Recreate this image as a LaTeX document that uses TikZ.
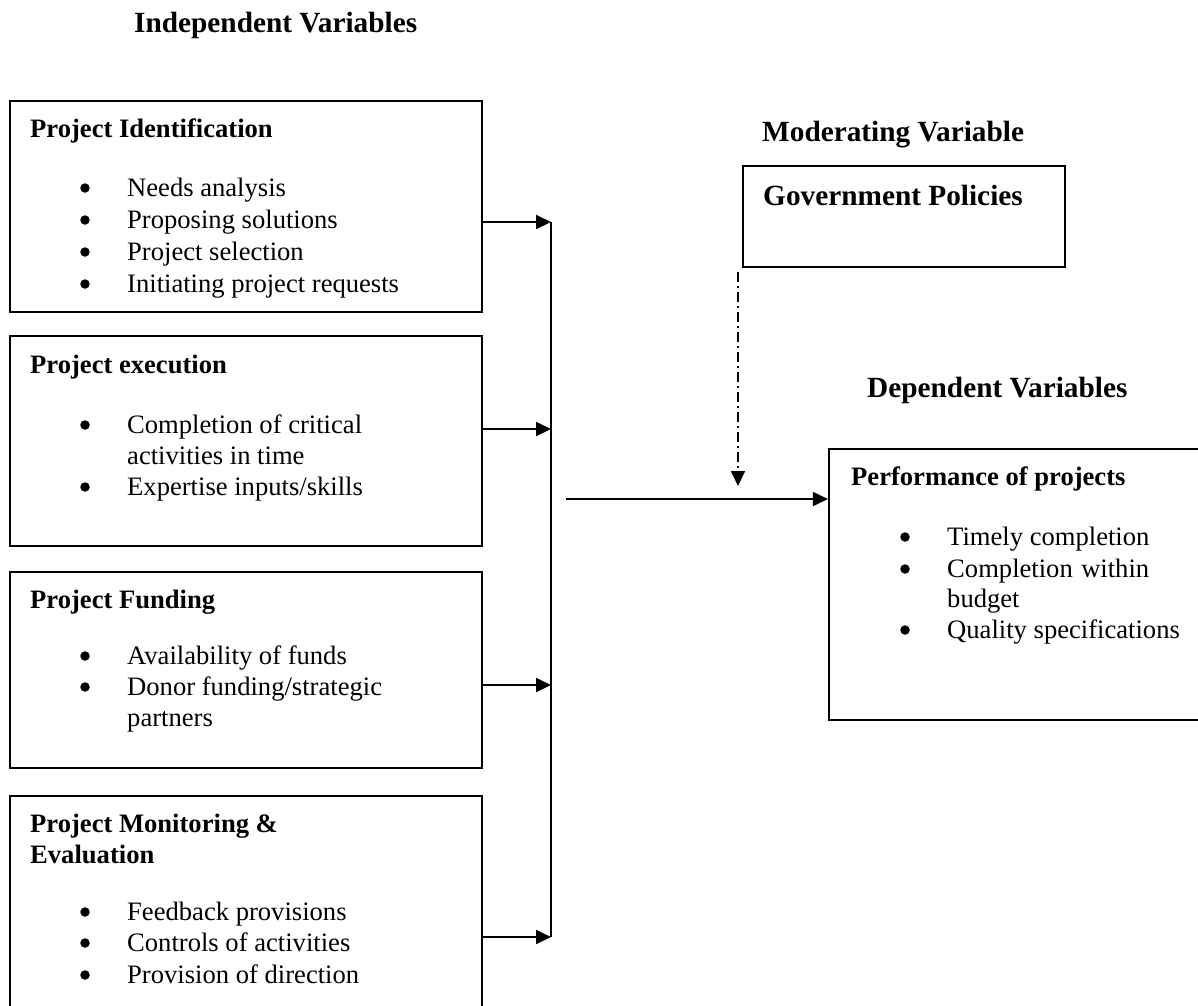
\documentclass[tikz,border=0pt]{standalone}
\usepackage{fontspec}
\setmainfont{Liberation Serif}
\usetikzlibrary{arrows.meta}
\begin{document}
\begin{tikzpicture}[x=1pt,y=-1pt,
  box/.style={draw, line width=2.2pt, inner sep=0pt},
  txt/.style={anchor=base west, inner sep=0pt, font=\fontsize{26.6}{31}\selectfont},
  hd/.style={anchor=base west, inner sep=0pt, font=\fontsize{26.6}{31}\selectfont\bfseries},
  ttl/.style={anchor=base west, inner sep=0pt, font=\fontsize{29.3}{34}\selectfont\bfseries},
  bul/.style={circle, fill=black, inner sep=0pt, minimum size=9.5pt, yshift=8pt},
  conn/.style={line width=1.9pt, -{Triangle[length=15pt,width=14pt]}},
  plain/.style={line width=1.9pt},
  modline/.style={line width=1.6pt, dash pattern=on 10pt off 4pt on 2pt off 4pt, -{Triangle[length=15pt,width=14pt]}}
]
\useasboundingbox (0,0) rectangle (1198,1005);

% Titles
\node[ttl] (tind) at (134,32) {Independent Variables};
\node[ttl] (tmod) at (762,141) {Moderating Variable};
\node[ttl] (tdep) at (867,397) {Dependent Variables};

% Box 1
\node[box, minimum width=472pt, minimum height=211pt] (b1) at (246,206.5) {};
\node[hd] (h1) at (30,137) {Project Identification};
\node[bul] (b1a) at (85,196) {};
\node[txt] (t1a) at (127,196) {Needs analysis};
\node[bul] (b1b) at (85,228) {};
\node[txt] (t1b) at (127,228) {Proposing solutions};
\node[bul] (b1c) at (85,260) {};
\node[txt] (t1c) at (127,260) {Project selection};
\node[bul] (b1d) at (85,292) {};
\node[txt] (t1d) at (127,292) {Initiating project requests};

% Box 2
\node[box, minimum width=472pt, minimum height=210pt] (b2) at (246,441) {};
\node[hd] (h2) at (30,373) {Project execution};
\node[bul] (b2a) at (85,433) {};
\node[txt] (t2a) at (127,433) {Completion of critical};
\node[txt] (t2a2) at (127,464) {activities in time};
\node[bul] (b2b) at (85,495) {};
\node[txt] (t2b) at (127,495) {Expertise inputs/skills};

% Box 3
\node[box, minimum width=472pt, minimum height=196pt] (b3) at (246,670) {};
\node[hd] (h3) at (30,608) {Project Funding};
\node[bul] (b3a) at (85,664) {};
\node[txt] (t3a) at (127,664) {Availability of funds};
\node[bul] (b3b) at (85,695) {};
\node[txt] (t3b) at (127,695) {Donor funding/strategic};
\node[txt] (t3b2) at (127,726) {partners};

% Box 4
\node[box, minimum width=472pt, minimum height=234pt] (b4) at (246,913) {};
\node[hd] (h4) at (30,832) {Project Monitoring \&};
\node[hd] (h4b) at (30,863) {Evaluation};
\node[bul] (b4a) at (85,920) {};
\node[txt] (t4a) at (127,920) {Feedback provisions};
\node[bul] (b4b) at (85,951) {};
\node[txt] (t4b) at (127,951) {Controls of activities};
\node[bul] (b4c) at (85,983) {};
\node[txt] (t4c) at (127,983) {Provision of direction};

% Moderating box
\node[box, minimum width=322pt, minimum height=101pt] (gov) at (904,216.5) {};
\node[ttl] (tgov) at (763,205) {Government Policies};

% Dependent box
\node[box, minimum width=380pt, minimum height=271pt] (perf) at (1019,584.5) {};
\node[hd] (hp) at (851,485) {Performance of projects};
\node[bul] (bpa) at (905,545) {};
\node[txt] (tpa) at (947,545) {Timely completion};
\node[bul] (bpb) at (905,577) {};
\node[txt] (tpb) at (947,577) {\makebox[202pt][s]{Completion within}};
\node[txt] (tpb2) at (947,607) {budget};
\node[bul] (bpc) at (905,638) {};
\node[txt] (tpc) at (947,638) {Quality specifications};

% Junction coordinates
\coordinate (j1) at (551,222);
\coordinate (j2) at (551,429);
\coordinate (j3) at (551,685);
\coordinate (j4) at (551,937);
\coordinate (m) at (566,499);
\coordinate (d1) at (738,272);
\coordinate (d2) at (738,486);

% Connectors
\draw[conn] (j1 -| b1.east) -- (j1);
\draw[conn] (j2 -| b2.east) -- (j2);
\draw[conn] (j3 -| b3.east) -- (j3);
\draw[conn] (j4 -| b4.east) -- (j4);
\draw[plain] (j1) -- (j4);
\draw[conn] (m) -- (m -| perf.west);
\draw[modline] (d1) -- (d2);
\end{tikzpicture}
\end{document}
